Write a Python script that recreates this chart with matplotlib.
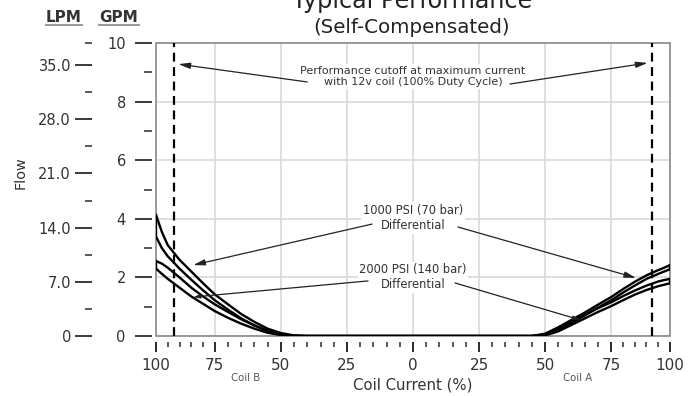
import numpy as np
import matplotlib
matplotlib.use("Agg")
import matplotlib.pyplot as plt
from matplotlib.ticker import FixedLocator, FixedFormatter
from matplotlib.patches import Rectangle
from matplotlib.lines import Line2D

# ---------------- data ----------------
coil_pct = [0, 40, 45, 50, 55, 60, 65, 70, 75, 80, 85, 90, 95, 97.5, 100]

# Coil B (left side), flow in GPM
b_1000_upper = [0, 0, 0.02, 0.10, 0.25, 0.48, 0.75, 1.08, 1.42, 1.80, 2.20, 2.60, 3.10, 3.55, 4.13]
b_1000_lower = [0, 0, 0.00, 0.05, 0.17, 0.36, 0.60, 0.90, 1.22, 1.56, 1.92, 2.30, 2.72, 3.00, 3.39]
b_2000_upper = [0, 0, 0.01, 0.06, 0.18, 0.36, 0.57, 0.82, 1.08, 1.35, 1.65, 2.00, 2.33, 2.47, 2.56]
b_2000_lower = [0, 0, 0.00, 0.03, 0.11, 0.25, 0.42, 0.62, 0.85, 1.10, 1.35, 1.65, 1.95, 2.12, 2.30]

# Coil A (right side), flow in GPM
a_1000_upper = [0, 0, 0.00, 0.08, 0.30, 0.55, 0.80, 1.07, 1.33, 1.60, 1.85, 2.07, 2.25, 2.33, 2.42]
a_1000_lower = [0, 0, 0.00, 0.04, 0.20, 0.45, 0.70, 0.97, 1.22, 1.48, 1.72, 1.95, 2.12, 2.20, 2.28]
a_2000_upper = [0, 0, 0.00, 0.05, 0.25, 0.48, 0.72, 0.95, 1.15, 1.36, 1.55, 1.72, 1.86, 1.91, 1.95]
a_2000_lower = [0, 0, 0.00, 0.02, 0.16, 0.38, 0.60, 0.82, 1.02, 1.22, 1.41, 1.57, 1.70, 1.75, 1.80]

cutoff_pct = 92.5
x_ticks = [-100, -75, -50, -25, 0, 25, 50, 75, 100]
x_ticklabels = ["100", "75", "50", "25", "0", "25", "50", "75", "100"]
gpm_major = [0, 2, 4, 6, 8, 10]
gpm_minor = [1, 3, 5, 7, 9]
lpm_major = [0, 7, 14, 21, 28, 35]
lpm_labels = ["0", "7.0", "14.0", "21.0", "28.0", "35.0"]
lpm_minor = [3.5, 10.5, 17.5, 24.5, 31.5, 37.85]
gpm_to_lpm = 3.785

# ---------------- figure ----------------
W, H = 695, 396
fig = plt.figure(figsize=(W / 100, H / 100), dpi=100)
plt.rcParams['font.family'] = ['DejaVu Sans']

L, R, T, B = 156, 670, 43, 336
ax = fig.add_axes([L / W, (H - B) / H, (R - L) / W, (B - T) / H])


def fwd(x):
    x = np.asarray(x, dtype=float)
    a = np.abs(x)
    return np.sign(x) * np.where(a <= 75, a, 75 + (a - 75) * 0.89)


def inv(t):
    t = np.asarray(t, dtype=float)
    a = np.abs(t)
    return np.sign(t) * np.where(a <= 75, a, 75 + (a - 75) / 0.89)


ax.set_xscale('function', functions=(fwd, inv))
ax.set_xlim(-100, 100)
ax.set_ylim(0, 10)

tick_col = '#2a2a2a'
txt_col = '#333333'

for s in ax.spines.values():
    s.set_visible(False)
ax.spines['left'].set_position(('outward', 3))
ax.spines['bottom'].set_position(('outward', 4.3))

ax.xaxis.set_major_locator(FixedLocator(x_ticks))
ax.xaxis.set_major_formatter(FixedFormatter(x_ticklabels))
ax.xaxis.set_minor_locator(FixedLocator([v for v in range(-95, 100, 5) if v % 25 != 0]))
ax.yaxis.set_major_locator(FixedLocator(gpm_major))
ax.yaxis.set_minor_locator(FixedLocator(gpm_minor))

ax.tick_params(axis='x', which='major', length=7.2, width=1.4, color=tick_col,
               labelsize=11, labelcolor=txt_col, pad=4.5)
ax.tick_params(axis='x', which='minor', length=3.6, width=1.1, color=tick_col)
ax.tick_params(axis='y', which='major', length=12.2, width=1.3, color=tick_col,
               labelsize=10.5, labelcolor=txt_col, pad=6.5)
ax.tick_params(axis='y', which='minor', length=5.8, width=1.1, color=tick_col)

ax.grid(True, which='major', color='#d9d9d9', lw=1.2, zorder=0)
ax.set_axisbelow(True)

# LPM axis
ax2 = ax.twinx()
ax2.set_ylim(0, 10 * gpm_to_lpm)
for s in ax2.spines.values():
    s.set_visible(False)
ax2.yaxis.set_ticks_position('left')
ax2.spines['left'].set_position(('outward', 46))
ax2.yaxis.set_major_locator(FixedLocator(lpm_major))
ax2.yaxis.set_major_formatter(FixedFormatter(lpm_labels))
ax2.yaxis.set_minor_locator(FixedLocator(lpm_minor))
ax2.tick_params(axis='y', which='major', length=12.2, width=1.3, color=tick_col,
                labelsize=10.5, labelcolor=txt_col, pad=3)
ax2.tick_params(axis='y', which='minor', length=5, width=1.1, color=tick_col)
ax2.tick_params(axis='y', which='both', right=False, labelright=False)

# frame
ax.add_patch(Rectangle((0, 0), 1, 1, transform=ax.transAxes, fill=False,
                       edgecolor='#8a8a8a', lw=1.2, zorder=1, clip_on=False))

# curves
xa = np.array(coil_pct)
lw = 1.7
for up, lo in [(b_1000_upper, b_1000_lower), (b_2000_upper, b_2000_lower)]:
    ax.plot(-xa, up, color='black', lw=lw, zorder=4, solid_capstyle='round')
    ax.plot(-xa, lo, color='black', lw=lw, zorder=4, solid_capstyle='round')
    ax.plot([-xa[-1], -xa[-1]], [up[-1], lo[-1]], color='black', lw=lw, zorder=4)
for up, lo in [(a_1000_upper, a_1000_lower), (a_2000_upper, a_2000_lower)]:
    ax.plot(xa, up, color='black', lw=lw, zorder=4, solid_capstyle='round')
    ax.plot(xa, lo, color='black', lw=lw, zorder=4, solid_capstyle='round')
    ax.plot([xa[-1], xa[-1]], [up[-1], lo[-1]], color='black', lw=lw, zorder=4)

# cutoff lines
for xc in (-cutoff_pct, cutoff_pct):
    ax.axvline(xc, color='black', lw=1.6, ls=(0, (4, 2.5)), zorder=3)

# annotations
bbox = dict(boxstyle='square,pad=0.15', fc='white', ec='none')
ap = dict(arrowstyle='-|>,head_length=0.7,head_width=0.18', color='#222222', lw=0.9,
          shrinkA=0, shrinkB=0, mutation_scale=10)

ax.text(0, 8.86, "Performance cutoff at maximum current\nwith 12v coil (100% Duty Cycle)",
        ha='center', va='center', fontsize=8, color=txt_col, linespacing=1.15,
        bbox=bbox, zorder=5)
ax.annotate('', xy=(-90.5, 9.28), xytext=(-40, 8.67), arrowprops=ap, zorder=5)
ax.annotate('', xy=(90.5, 9.32), xytext=(36.7, 8.60), arrowprops=ap, zorder=5)

ax.text(0, 4.02, "1000 PSI (70 bar)\nDifferential", ha='center', va='center',
        fontsize=8.3, color=txt_col, linespacing=1.2, bbox=bbox, zorder=5)
ax.annotate('', xy=(-84.2, 2.42), xytext=(-15.5, 3.82), arrowprops=ap, zorder=5)
ax.annotate('', xy=(85.6, 1.98), xytext=(17.0, 3.72), arrowprops=ap, zorder=5)

ax.text(0, 2.0, "2000 PSI (140 bar)\nDifferential", ha='center', va='center',
        fontsize=8.3, color=txt_col, linespacing=1.2, bbox=bbox, zorder=5)
ap2 = dict(ap)
ap2['arrowstyle'] = '-|>,head_length=0.4,head_width=0.12'
ax.annotate('', xy=(-84.2, 1.33), xytext=(-17, 1.88), arrowprops=ap2, zorder=5)
ax.annotate('', xy=(63.2, 0.55), xytext=(15.9, 1.81), arrowprops=ap2, zorder=5)

# figure texts
fig.text(412 / W, 1 - 8 / H, "Typical Performance", ha='center', va='baseline',
         fontsize=17.2, color='#222222')
fig.text(412 / W, 1 - 33 / H, "(Self-Compensated)", ha='center', va='baseline',
         fontsize=14.3, color='#222222')
fig.text(412.5 / W, 1 - 385 / H, "Coil Current (%)", ha='center', va='center',
         fontsize=10.7, color=txt_col)
fig.text(245.5 / W, 1 - 378 / H, "Coil B", ha='center', va='center', fontsize=7.3, color='#555555')
fig.text(577.5 / W, 1 - 378 / H, "Coil A", ha='center', va='center', fontsize=7.3, color='#555555')
fig.text(21 / W, 1 - 173 / H, "Flow", ha='center', va='center', rotation=90,
         fontsize=10.4, color=txt_col)

for label, cx, x0, x1 in [("LPM", 64, 46, 82), ("GPM", 119, 99, 139)]:
    fig.text(cx / W, 1 - 21.5 / H, label, ha='center', va='baseline', fontsize=11,
             color='#333333', fontweight='bold')
    fig.add_artist(Line2D([x0 / W, x1 / W], [1 - 25 / H, 1 - 25 / H], color='#999999',
                          lw=1.4, transform=fig.transFigure))

fig.savefig("out.png", dpi=100)
